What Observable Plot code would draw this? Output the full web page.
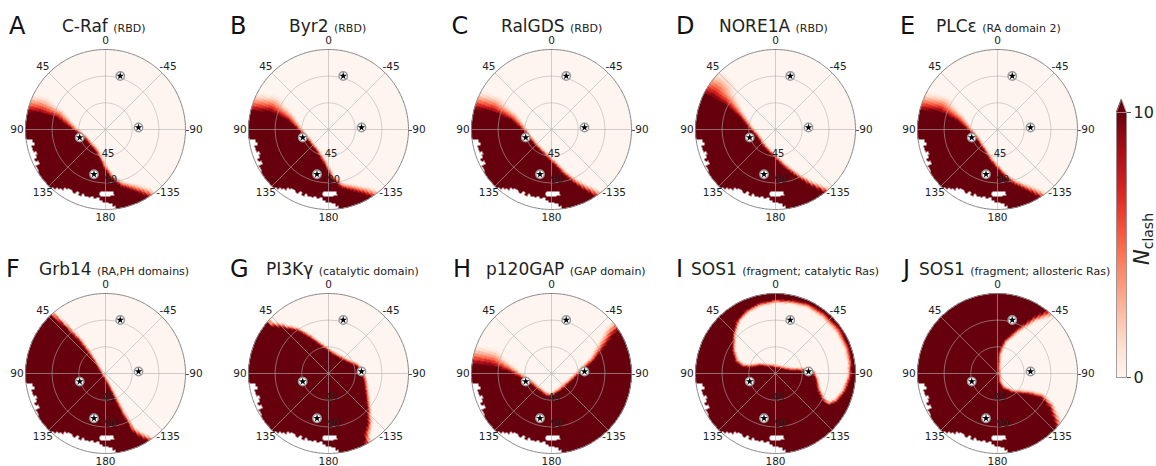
<!DOCTYPE html>
<html><head><meta charset="utf-8">
<script src="https://cdn.jsdelivr.net/npm/d3@7"></script>
<script src="https://cdn.jsdelivr.net/npm/@observablehq/plot@0.6"></script>
<style>
body{margin:0;background:#fff;}
#page{position:relative;width:1156px;height:466px;overflow:hidden;font-family:"DejaVu Sans",sans-serif;}
.panel{position:absolute;}
.letter{position:absolute;font-size:24px;line-height:1;color:#111;white-space:nowrap;}
.title{position:absolute;font-size:17px;line-height:1;color:#222;white-space:nowrap;}
.title span{font-size:11px;}
#cblabel{position:absolute;left:1142px;top:239px;transform:translate(-50%,-50%) rotate(-90deg);white-space:nowrap;color:#222;line-height:1;}
</style></head>
<body><div id="page"></div>
<script>
// ---------------- data ----------------
const panelLetters = ["A","B","C","D","E","F","G","H","I","J"];
const panelNames = ["C-Raf","Byr2","RalGDS","NORE1A","PLCε","Grb14","PI3Kγ","p120GAP","SOS1","SOS1"];
const panelDomains = ["(RBD)","(RBD)","(RBD)","(RBD)","(RA domain 2)","(RA,PH domains)","(catalytic domain)","(GAP domain)","(fragment; catalytic Ras)","(fragment; allosteric Ras)"];
const angleTicks = [0, 45, 90, 135, 180, -135, -90, -45];
const radialTicks = [45, 90];
const radialMax = 135;
const clashDomain = [0, 10];
const colorbarTicks = [0, 10];

// reference orientations (stars): azimuth (deg), radius
const starPhi = [-15.4, -86.5, 107.4, 165.6];
const starR = [93.6, 55.8, 45.6, 78];

// undefined (white) region near the rim, shared by all panels
const nanPhi = [99,102,105,108,111,114,117,120,123,126,129,132,135,138,141,144,147,150,153,156,159,162,165,168,171,174,177,180,183,186];
const nanR   = [126,122,128,123,126,131,125,132,135,135,135,135,135,133,128,125,121,118,120,116,119,115,118,114,117,115,119,122,126,131];
const nanIslandPhi = [176, 188];
const nanIslandR = [104, 113];

// clash-region boundaries: [azimuth, radius, transition width]
const boundaryA = [[77.8,147,35],[75.6,113,30],[76.4,84,18],[90,56,10],[111,39,7],[155,40,7],[177.5,65,8],[-174,82,8],[-165,99,10],[-155,114.5,14],[-148,133,16],[-146,150,16]];
const boundaryB = [[77.8,147,35],[72.6,103,30],[76.5,72,16],[90,52,9],[110,41,7],[150,42,7],[173,59.5,8],[-177,82,8],[-168,100.6,10],[-157.4,112.7,13],[-150.6,126,15],[-146.6,138,16],[-145,152,16]];
const boundaryC = [[75.4,145,35],[73,106,30],[76.3,71,16],[93.4,47,9],[110,41,7],[142,39,7],[171,48,7],[-176,59,8],[-164.7,79,8],[-157.3,97.6,9],[-151.7,115,11],[-148,129.4,13],[-145.7,140,14],[-144,152,14]];
const boundaryD = [[65.4,148.5,55],[62.2,121,45],[63.4,94,25],[70,66,12],[86.4,45,8],[112.7,33.5,7],[146.6,35.7,7],[176.6,47,7],[-167.5,65,8],[-155.6,88,8],[-148,111,9],[-142.9,130.5,11],[-140.6,142,12],[-140,152,12]];
const boundaryE = [[76.5,145,35],[72.6,103,30],[77.5,70,16],[92,49,9],[109,40,7],[138.4,40,7],[166.7,54,7],[-178.6,69,8],[-171,81.5,8],[-163.6,95.6,9],[-154.3,114,11],[-149.2,130,13],[-146.3,142,14],[-145,152,14]];
const boundaryF = [[43.5,155,10],[43.3,135,10],[41,103,8],[39.2,71,7],[40.8,43,7],[47,23,6],[90,8,6],[-171,18,6],[-161,43,7],[-157.7,74,7],[-155,107,8],[-151.3,123,10],[-148,133,10],[-144.5,145,10]];
const boundaryG = [[49.6,148,10],[51.2,128,10],[46,112,8],[36,89,7],[28.2,69,7],[15.5,48,7],[-11.7,33,7],[-51,34,7],[-74.3,48,7],[-85.3,55,7],[-101.6,61,7],[-118.9,72,7],[-133.7,91,8],[-142.4,108,10],[-149.5,119,12],[-152.9,136,12],[-153.4,151,12]];
const boundaryH = [[83.2,142,35],[82.2,104,30],[86.6,75,15],[97.4,53,9],[111.7,41,8],[137.5,36,8],[165,39,8],[180,39.4,8],[-152.6,33,8],[-109.5,37,8],[-85,52,8],[-73.3,75,10],[-63.6,99,14],[-57.7,124,18],[-56,144,20]];
const boundaryI = [[77.3,46,7],[62.9,28,7],[15.5,10.5,7],[-79.9,26,7],[-84.6,48,7],[-88.4,62,7],[-98.1,68,7],[-110.6,75,7],[-119.7,91,7],[-121.2,105,7],[-114.7,114.5,8],[-104.7,122,8],[-93.8,127,8],[-82.6,130.5,9],[-70.6,132,10],[-55.3,133,12],[-39.8,132,12],[-25.5,131,10],[-12.8,127,8],[0,125,8],[13.3,122.5,8],[25.3,118,8],[35.7,111,7],[46.8,99,7],[61.7,83,7],[73.7,70,7],[78.7,57,7]];
const boundaryJ = [[-38,164,15],[-38.3,136,15],[-32.9,114,10],[-24,83,8],[-11.3,57,7],[-1.9,34,7],[0,8.4,7],[-173.2,14,7],[-161.6,27,7],[-142.2,41,7],[-124.6,61.5,8],[-118.9,84,9],[-122.8,104,10],[-129.5,124,12],[-133.4,139,12],[-136.4,163,12]];
const boundaries = [boundaryA,boundaryB,boundaryC,boundaryD,boundaryE,boundaryF,boundaryG,boundaryH,boundaryI,boundaryJ];
const lightInside = [false,false,false,false,false,false,false,false,true,false];

// ---------------- layout ----------------
const centersX = [104.5, 327.7, 551, 775, 997.3];
const centersY = [128.7, 372.7];
const letterLeft = [9, 230, 451.5, 676, 900, 6, 230, 453, 676, 903];
const titleLeft = [62, 289, 501, 719, 936, 39, 266, 486, 691, 919];
const letterBase = [34, 277];
const titleBase = [32.7, 275];

const S = 220;               // panel svg size
const k = 80 / radialMax;    // px per radial unit
const half = S / 2 / k;
const deg = Math.PI / 180;
const px = (phi, r) => -r * Math.sin(phi * deg);
const py = (phi, r) => r * Math.cos(phi * deg);

const colorScale = {type: "linear", domain: clashDomain, scheme: "reds"};

function isUndefinedCell(p, r) {
  const idx = Math.round((p - nanPhi[0]) / 3);
  if (idx >= 0 && idx < nanPhi.length && r > nanR[idx]) return true;
  if (p >= nanIslandPhi[0] && p <= nanIslandPhi[1] && r >= nanIslandR[0] && r <= nanIslandR[1]) return true;
  return false;
}

function buildField(boundary, inverted) {
  const real = boundary.map(([phi, r, w]) => [px(phi, r), py(phi, r), w]);
  const segs = [];
  for (let i = 0; i < real.length - 1; i++) segs.push([real[i], real[i + 1]]);
  let poly;
  if (inverted) {
    segs.push([real[real.length - 1], real[0]]);
    poly = real;
  } else {
    const a = boundary[boundary.length - 1][0];
    let b = boundary[0][0];
    while (b >= a) b -= 360;
    poly = real.slice();
    for (let p = a; p > b; p -= 10) poly.push([px(p, 200), py(p, 200)]);
    poly.push([px(b, 200), py(b, 200)]);
  }
  const inPoly = (x, y) => {
    let c = false;
    for (let i = 0, j = poly.length - 1; i < poly.length; j = i++) {
      const [xi, yi] = poly[i], [xj, yj] = poly[j];
      if (((yi > y) !== (yj > y)) && (x < (xj - xi) * (y - yi) / (yj - yi) + xi)) c = !c;
    }
    return c;
  };
  const qstep = 2.5, rstep = 2.5;
  return (x, y) => {
    const r = Math.hypot(x, y);
    if (r > radialMax) return NaN;
    let p = Math.atan2(-x, y) / deg;
    if (p < 0) p += 360;
    const pq = (Math.floor(p / qstep) + 0.5) * qstep;
    const rq = (Math.floor(r / rstep) + 0.5) * rstep;
    if (isUndefinedCell(pq, rq)) return NaN;
    const X = px(pq, rq), Y = py(pq, rq);
    const inside = inPoly(X, Y);
    const dark = inverted ? !inside : inside;
    if (dark) return 10;
    let q = Infinity;
    for (const [A, B] of segs) {
      const dx = B[0] - A[0], dy = B[1] - A[1];
      const L = dx * dx + dy * dy;
      let t = L ? ((X - A[0]) * dx + (Y - A[1]) * dy) / L : 0;
      t = Math.max(0, Math.min(1, t));
      const d = Math.hypot(X - (A[0] + t * dx), Y - (A[1] + t * dy));
      const w = A[2] + t * (B[2] - A[2]);
      q = Math.min(q, d / w);
    }
    return q >= 1 ? 0 : 10 * Math.pow(1 - q, 1.5);
  };
}

const circlePts = [];
for (const r of [...radialTicks]) for (let p = 0; p <= 360; p += 2) circlePts.push({p, r});
const rimPts = [];
for (let p = 0; p <= 360; p += 1) rimPts.push({p, r: radialMax});
const spokes = [0, 45, 90, 135, 180, 225, 270, 315];
const stars = starPhi.map((p, i) => ({p, r: starR[i]}));

const page = document.getElementById("page");

boundaries.forEach((boundary, i) => {
  const col = i % 5, row = Math.floor(i / 5);
  const cx = centersX[col], cy = centersY[row];
  const field = buildField(boundary, lightInside[i]);
  const svg = Plot.plot({
    width: S, height: S, margin: 0,
    x: {domain: [-half, half], axis: null},
    y: {domain: [-half, half], axis: null},
    color: colorScale,
    style: {background: "transparent", fontFamily: "DejaVu Sans", fontSize: "10px", color: "#222", overflow: "visible"},
    marks: [
      Plot.raster({x1: -radialMax, x2: radialMax, y1: -radialMax, y2: radialMax, fill: field, pixelSize: 1}),
      Plot.line(circlePts, {x: d => px(d.p, d.r), y: d => py(d.p, d.r), z: "r", stroke: "#b0b0b0", strokeOpacity: 0.75, strokeWidth: 0.8}),
      Plot.link(spokes, {x1: 0, y1: 0, x2: d => px(d, radialMax), y2: d => py(d, radialMax), stroke: "#b0b0b0", strokeOpacity: 0.75, strokeWidth: 0.8}),
      Plot.line(rimPts, {x: d => px(d.p, d.r), y: d => py(d.p, d.r), stroke: "#777", strokeWidth: 0.9}),
      Plot.text(angleTicks, {x: d => px(d, 149.5), y: d => py(d, 149.5), text: d => String(d), fill: "#222", fontSize: 10.5}),
      Plot.text(radialTicks, {x: d => px(-174, d - 4.5), y: d => py(-174, d - 4.5), text: d => String(d), fill: "#222", fontSize: 10}),
      Plot.dot(stars, {x: d => px(d.p, d.r), y: d => py(d.p, d.r), r: 4.2, fill: "white", stroke: "#999", strokeWidth: 1.4}),
      Plot.dot(stars, {x: d => px(d.p, d.r), y: d => py(d.p, d.r), r: 2.4, symbol: "star", fill: "black", stroke: "none"})
    ]
  });
  const wrap = document.createElement("div");
  wrap.className = "panel";
  wrap.style.left = (cx - S / 2) + "px";
  wrap.style.top = (cy - S / 2) + "px";
  wrap.append(svg);
  page.append(wrap);
});

// titles
panelNames.forEach((name, i) => {
  const row = Math.floor(i / 5);
  const L = document.createElement("div");
  L.className = "letter";
  L.textContent = panelLetters[i];
  L.style.left = letterLeft[i] + "px";
  L.style.top = (letterBase[row] - 0.846 * 24) + "px";
  page.append(L);
  const T = document.createElement("div");
  T.className = "title";
  T.innerHTML = name + " <span>" + panelDomains[i] + "</span>";
  T.style.left = titleLeft[i] + "px";
  T.style.top = (titleBase[row] - 0.846 * 17) + "px";
  page.append(T);
});

// colorbar
const cbTip = [{x: 0, y: 10}, {x: 0.5, y: 10.5}, {x: 1, y: 10}];
const cbOutline = [{x: 0, y: 0}, {x: 1, y: 0}, {x: 1, y: 10}, {x: 0.5, y: 10.5}, {x: 0, y: 10}, {x: 0, y: 0}];
const cb = Plot.plot({
  width: 66, height: 300, marginLeft: 26, marginRight: 30, marginTop: 22, marginBottom: 13,
  x: {domain: [0, 1], axis: null},
  y: {domain: clashDomain, axis: null},
  color: colorScale,
  style: {background: "transparent", fontFamily: "DejaVu Sans", fontSize: "16px", color: "#222", overflow: "visible"},
  marks: [
    Plot.raster({x1: 0, x2: 1, y1: 0, y2: 10, fill: (x, y) => y, pixelSize: 1}),
    Plot.areaY(cbTip, {x: "x", y1: 10, y2: "y", fill: () => 10}),
    Plot.line(cbOutline, {x: "x", y: "y", stroke: "#888", strokeWidth: 0.8}),
    Plot.axisY(colorbarTicks, {anchor: "right", tickSize: 4, tickPadding: 3, fontSize: 16, label: null, stroke: "#555"})
  ]
});
const cbWrap = document.createElement("div");
cbWrap.className = "panel";
cbWrap.style.left = "1090px";
cbWrap.style.top = "90px";
cbWrap.append(cb);
page.append(cbWrap);

const lab = document.createElement("div");
lab.id = "cblabel";
lab.innerHTML = '<span style="font-style:italic;font-size:21px">N</span><span style="font-size:14px;position:relative;top:4px">clash</span>';
page.append(lab);
</script></body></html>
